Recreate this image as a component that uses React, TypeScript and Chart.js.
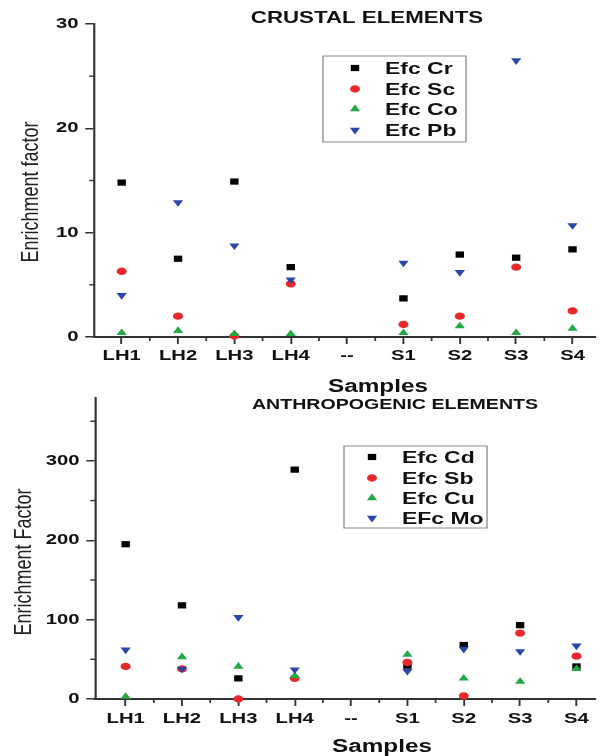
import React, { useEffect, useRef } from 'react';
import { Chart, registerables } from 'chart.js';

Chart.register(...registerables);

// ---------------- data ----------------
const samples = ['LH1', 'LH2', 'LH3', 'LH4', '--', 'S1', 'S2', 'S3', 'S4'];

// Crustal elements
const efcCr = [14.8, 7.5, 14.9, 6.7, null, 3.7, 7.9, 7.6, 8.4];
const efcSc = [6.3, 2.0, 0.1, 5.1, null, 1.2, 2.0, 6.7, 2.5];
const efcCo = [0.4, 0.6, 0.3, 0.3, null, 0.4, 1.05, 0.4, 0.8];
const efcPb = [4.0, 12.9, 8.75, 5.5, null, 7.1, 6.2, 26.5, 10.7];

// Anthropogenic elements
const efcCd = [195, 118, 26, 289, null, 42, 68, 93, 41];
const efcSb = [41, 38, 0, 26, null, 46, 4, 83, 54];
const efcCu = [3, 53, 41, 29, null, 56, 26, 22, 38];
const efcMo = [62, 38, 103, 37, null, 35, 63, 60, 67];

const crustalTicks = [0, 10, 20, 30];
const crustalMinor = [5, 15, 25];
const anthroTicks = [0, 100, 200, 300];
const anthroMinor = [50, 150, 250, 350];

// ---------------- styling / layout ----------------
const PAGE_W = 601;
const LOGICAL_W = 445; // chart is laid out at this width and stretched horizontally
const S = PAGE_W / LOGICAL_W;
const FONT = "'Liberation Sans', Arial, sans-serif";
const AXIS = '#333333';
const TEXT = '#111111';

const BLACK = '#000000';
const RED = '#e8282b';
const GREEN = '#22a845';
const BLUE = '#2a46a8';

type Series = { label: string; data: (number | null)[]; color: string; style: string; rotation: number; radius: number };

const panels = [
  {
    key: 'crustal',
    top: 0,
    height: 402,
    title: 'CRUSTAL ELEMENTS',
    titleX: 367,
    titleBase: 23,
    titleSize: 16.5,
    xTitle: 'Samples',
    xTitleX: 378,
    xTitleBase: 392,
    yTitle: 'Enrichment factor',
    yTitleX: 31,
    yTitleY: 192,
    axisLeft: 94,
    areaTop: 24,
    areaBottom: 337,
    xMin: 0.509,
    xMax: 9.4,
    yMax: 30,
    yTicks: crustalTicks,
    yMinor: crustalMinor,
    xLabelPad: 3,
    legend: { left: 323, top: 56, right: 466, bottom: 142, markerX: 355, textX: 385, rows: [68, 89, 109, 130] },
    series: [
      { label: 'Efc Cr', data: efcCr, color: BLACK, style: 'rect', rotation: 0, radius: 4.4 },
      { label: 'Efc Sc', data: efcSc, color: RED, style: 'circle', rotation: 0, radius: 3.7 },
      { label: 'Efc Co', data: efcCo, color: GREEN, style: 'triangle', rotation: 0, radius: 4.4 },
      { label: 'Efc Pb', data: efcPb, color: BLUE, style: 'triangle', rotation: 180, radius: 4.4 },
    ] as Series[],
  },
  {
    key: 'anthro',
    top: 393,
    height: 363,
    title: 'ANTHROPOGENIC ELEMENTS',
    titleX: 395,
    titleBase: 16,
    titleSize: 14.5,
    xTitle: 'Samples',
    xTitleX: 382,
    xTitleBase: 359,
    yTitle: 'Enrichment Factor',
    yTitleX: 24,
    yTitleY: 169,
    axisLeft: 95,
    areaTop: 4,
    areaBottom: 306,
    xMin: 0.456,
    xMax: 9.33,
    yMax: 380,
    yTicks: anthroTicks,
    yMinor: anthroMinor,
    xLabelPad: 4,
    legend: { left: 344, top: 53, right: 487, bottom: 135, markerX: 372, textX: 402, rows: [64, 85, 105, 125] },
    series: [
      { label: 'Efc Cd', data: efcCd, color: BLACK, style: 'rect', rotation: 0, radius: 4.4 },
      { label: 'Efc Sb', data: efcSb, color: RED, style: 'circle', rotation: 0, radius: 3.7 },
      { label: 'Efc Cu', data: efcCu, color: GREEN, style: 'triangle', rotation: 0, radius: 4.4 },
      { label: 'EFc Mo', data: efcMo, color: BLUE, style: 'triangle', rotation: 180, radius: 4.4 },
    ] as Series[],
  },
];

type Panel = (typeof panels)[number];

function drawMarker(ctx: CanvasRenderingContext2D, style: string, rotation: number, x: number, y: number, r: number, color: string) {
  ctx.save();
  ctx.fillStyle = color;
  ctx.beginPath();
  if (style === 'rect') {
    const s = r * Math.SQRT1_2;
    ctx.rect(x - s, y - s, 2 * s, 2 * s);
  } else if (style === 'circle') {
    ctx.arc(x, y, r, 0, Math.PI * 2);
  } else {
    let rad = (rotation * Math.PI) / 180;
    for (let k = 0; k < 3; k++) {
      const px = x + Math.sin(rad) * r;
      const py = y - Math.cos(rad) * r;
      if (k === 0) ctx.moveTo(px, py);
      else ctx.lineTo(px, py);
      rad += (2 * Math.PI) / 3;
    }
    ctx.closePath();
  }
  ctx.fill();
  ctx.restore();
}

function makeDecor(p: Panel) {
  return {
    id: 'decor_' + p.key,
    beforeDraw(chart: any) {
      chart.ctx.setTransform(S, 0, 0, 1, 0, 0);
    },
    afterDraw(chart: any) {
      const ctx: CanvasRenderingContext2D = chart.ctx;
      const xs = chart.scales.x;
      const ys = chart.scales.y;
      const area = chart.chartArea;
      ctx.save();
      // minor ticks
      ctx.strokeStyle = AXIS;
      ctx.lineWidth = 1.3;
      for (let v = 1.5; v < p.xMax; v += 1) {
        const px = xs.getPixelForValue(v);
        ctx.beginPath();
        ctx.moveTo(px, area.bottom);
        ctx.lineTo(px, area.bottom + 4);
        ctx.stroke();
      }
      ctx.lineWidth = 1.4;
      for (const m of p.yMinor) {
        const py = ys.getPixelForValue(m);
        ctx.beginPath();
        ctx.moveTo(area.left - 3.5, py);
        ctx.lineTo(area.left, py);
        ctx.stroke();
      }
      // titles
      ctx.fillStyle = TEXT;
      ctx.textAlign = 'center';
      ctx.textBaseline = 'alphabetic';
      ctx.font = `bold ${p.titleSize}px ${FONT}`;
      ctx.fillText(p.title, p.titleX / S, p.titleBase);
      ctx.font = `bold 18px ${FONT}`;
      ctx.fillText(p.xTitle, p.xTitleX / S, p.xTitleBase);
      ctx.save();
      ctx.translate(p.yTitleX / S, p.yTitleY);
      ctx.rotate(-Math.PI / 2);
      ctx.textBaseline = 'middle';
      ctx.fillStyle = '#222222';
      ctx.font = `18px ${FONT}`;
      ctx.fillText(p.yTitle, 0, 0);
      ctx.restore();
      // legend
      const L = p.legend;
      ctx.strokeStyle = '#8c8c8c';
      ctx.lineWidth = 1;
      ctx.strokeRect(L.left / S, L.top, (L.right - L.left) / S, L.bottom - L.top);
      ctx.textAlign = 'left';
      ctx.textBaseline = 'middle';
      ctx.font = `bold 17px ${FONT}`;
      ctx.fillStyle = TEXT;
      chart.data.datasets.forEach((ds: any, i: number) => {
        const sr = p.series[i];
        const y = L.rows[i];
        drawMarker(ctx, sr.style, sr.rotation, L.markerX / S, y, sr.radius, sr.color);
        ctx.fillStyle = TEXT;
        ctx.fillText(ds.label, L.textX / S, y + 1);
      });
      ctx.restore();
    },
  };
}

function buildConfig(p: Panel): any {
  const datasets = p.series.map((s, i) => ({
    label: s.label,
    data: s.data.flatMap((v, idx) => (v == null ? [] : [{ x: idx + 1, y: v }])),
    backgroundColor: s.color,
    borderColor: s.color,
    pointStyle: s.style,
    rotation: s.rotation,
    pointRadius: s.radius,
    pointBorderWidth: 0,
    showLine: false,
    clip: false,
    order: p.series.length - 1 - i,
  }));
  const tickFont = { family: FONT, size: 15, weight: 'bold' };
  return {
    type: 'scatter',
    data: { datasets },
    options: {
      animation: false,
      responsive: false,
      devicePixelRatio: 1,
      events: [],
      layout: { padding: { top: p.areaTop, left: 0, right: 0, bottom: 0 } },
      plugins: {
        legend: { display: false },
        tooltip: { enabled: false },
        title: { display: false },
      },
      scales: {
        x: {
          type: 'linear',
          position: 'bottom',
          min: p.xMin,
          max: p.xMax,
          afterBuildTicks: (s: any) => {
            s.ticks = samples.map((_, i) => ({ value: i + 1 }));
          },
          ticks: {
            callback: (v: number) => samples[Math.round(v) - 1] ?? '',
            font: tickFont,
            color: TEXT,
            padding: p.xLabelPad,
            autoSkip: false,
            maxRotation: 0,
            minRotation: 0,
          },
          grid: { display: true, drawOnChartArea: false, drawTicks: true, tickLength: 7, color: AXIS, lineWidth: 1.4 },
          border: { display: true, color: AXIS, width: 2 },
          afterFit: (s: any) => {
            s.height = p.height - p.areaBottom;
            s.paddingLeft = 0;
            s.paddingRight = 0;
          },
        },
        y: {
          type: 'linear',
          position: 'left',
          min: 0,
          max: p.yMax,
          afterBuildTicks: (s: any) => {
            s.ticks = p.yTicks.map((v) => ({ value: v }));
          },
          ticks: { font: tickFont, color: TEXT, padding: 5 },
          grid: { display: true, drawOnChartArea: false, drawTicks: true, tickLength: 6.5, color: AXIS, lineWidth: 1.5 },
          border: { display: true, color: AXIS, width: 1.6 },
          afterFit: (s: any) => {
            s.width = p.axisLeft / S;
            s.paddingTop = 0;
            s.paddingBottom = 0;
          },
        },
      },
    },
    plugins: [makeDecor(p)],
  };
}

function PanelChart({ p }: { p: Panel }) {
  const ref = useRef<HTMLCanvasElement | null>(null);
  useEffect(() => {
    const canvas = ref.current;
    if (!canvas) return;
    const chart = new Chart(canvas, buildConfig(p));
    // stretch the drawing horizontally onto the full page width
    canvas.width = PAGE_W;
    canvas.height = p.height;
    canvas.style.width = PAGE_W + 'px';
    canvas.style.height = p.height + 'px';
    chart.draw();
    return () => {
      chart.destroy();
    };
  }, [p]);
  return (
    <canvas
      ref={ref}
      width={LOGICAL_W}
      height={p.height}
      style={{ position: 'absolute', left: 0, top: p.top, display: 'block' }}
    />
  );
}

export default function App() {
  return (
    <div style={{ position: 'absolute', left: 0, top: 0, width: PAGE_W, height: 756, background: '#ffffff', overflow: 'hidden' }}>
      {panels.map((p) => (
        <PanelChart key={p.key} p={p} />
      ))}
    </div>
  );
}
